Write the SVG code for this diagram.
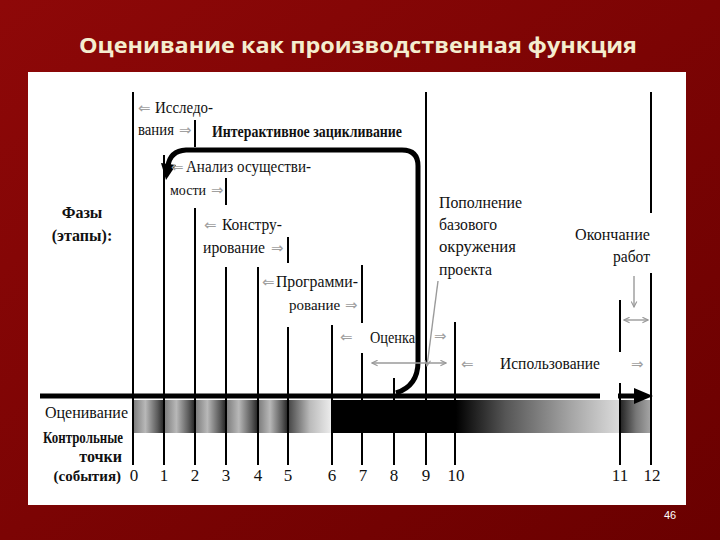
<svg xmlns="http://www.w3.org/2000/svg" width="720" height="540" viewBox="0 0 720 540">
<defs>
<linearGradient id="bg" x1="0" y1="0" x2="1" y2="1">
<stop offset="0" stop-color="#8e0808"/><stop offset="1" stop-color="#6a0000"/>
</linearGradient>
<linearGradient id="seg" x1="0" y1="0" x2="1" y2="0">
<stop offset="0" stop-color="#7a7a7a"/><stop offset="0.4" stop-color="#b8b8b8"/><stop offset="0.8" stop-color="#5a5a5a"/><stop offset="1" stop-color="#222"/>
</linearGradient>
<linearGradient id="seg5" x1="0" y1="0" x2="1" y2="0">
<stop offset="0" stop-color="#444"/><stop offset="0.5" stop-color="#bbb"/><stop offset="1" stop-color="#eee"/>
</linearGradient>
<linearGradient id="seg10" x1="0" y1="0" x2="1" y2="0">
<stop offset="0" stop-color="#000"/><stop offset="0.3" stop-color="#555"/><stop offset="0.7" stop-color="#a5a5a5"/><stop offset="1" stop-color="#dcdcdc"/>
</linearGradient>
<linearGradient id="seg11" x1="0" y1="0" x2="1" y2="0">
<stop offset="0" stop-color="#222"/><stop offset="0.5" stop-color="#777"/><stop offset="1" stop-color="#aaa"/>
</linearGradient>
<marker id="ga" viewBox="0 0 10 10" refX="9" refY="5" markerWidth="7" markerHeight="7" orient="auto-start-reverse" markerUnits="userSpaceOnUse">
<path d="M1 1 L9 5 L1 9" fill="none" stroke="#999" stroke-width="1.6"/>
</marker>
</defs>
<style>
.t{font-family:"Liberation Serif",serif;font-size:17px;fill:#111}
.b{font-family:"Liberation Serif",serif;font-size:16px;font-weight:bold;fill:#111}
.g{font-family:"DejaVu Sans",sans-serif;font-size:15px;fill:#a0a0a0}
.ln{stroke:#000;stroke-width:2;fill:none}
.ga{stroke:#9a9a9a;stroke-width:1.4;fill:none}
.num{font-family:"Liberation Serif",serif;font-size:17px;fill:#111;text-anchor:middle}
</style>
<rect width="720" height="540" fill="url(#bg)"/>
<text x="358" y="53" text-anchor="middle" font-family="'Open Sans',sans-serif" font-weight="bold" font-size="22" fill="#f4edcf" textLength="558" lengthAdjust="spacingAndGlyphs">Оценивание как производственная функция</text>
<rect x="28" y="72" width="658" height="433" fill="#fff"/>
<text x="670" y="519" text-anchor="middle" font-family="'Liberation Sans',sans-serif" font-size="11" fill="#fff">46</text>

<g id="bar">
<rect x="133" y="400" width="31" height="33" fill="url(#seg)"/>
<rect x="164" y="400" width="31" height="33" fill="url(#seg)"/>
<rect x="195" y="400" width="31" height="33" fill="url(#seg)"/>
<rect x="226" y="400" width="32" height="33" fill="url(#seg)"/>
<rect x="258" y="400" width="30" height="33" fill="url(#seg)"/>
<rect x="288" y="400" width="44" height="33" fill="url(#seg5)"/>
<rect x="332" y="400" width="124" height="33" fill="#000"/>
<rect x="456" y="400" width="164" height="33" fill="url(#seg10)"/>
<rect x="620" y="400" width="32" height="33" fill="url(#seg11)"/>
<line x1="40" y1="396" x2="600" y2="396" stroke="#000" stroke-width="5"/>
<line x1="618" y1="396" x2="638" y2="396" stroke="#000" stroke-width="5"/>
<polygon points="634,388 653,396 634,404" fill="#000"/>
</g>

<g id="connectors">
<path class="ln" d="M133 92 V465"/>
<path class="ln" d="M164 155 V465"/>
<path class="ln" d="M195 120 V147 M195 208 V465"/>
<path class="ln" d="M226 178 V205 M226 267 V465"/>
<path class="ln" d="M258 267 V465"/>
<path class="ln" d="M288 237 V263 M288 327 V465"/>
<path class="ln" d="M332 325 V465"/>
<path class="ln" d="M362 265 V323 M362 353 V465"/>
<path class="ln" d="M394 378 V465"/>
<path class="ln" d="M426 92 V465"/>
<path class="ln" d="M455 322 V465"/>
<path class="ln" d="M620 300 V352 M620 383 V465"/>
<path class="ln" d="M651 92 V213 M651 273 V465"/>
<path d="M396 393 Q418 386 418 362 L418 166 Q418 150 402 150 L186 150 Q170 151 168 166" fill="none" stroke="#000" stroke-width="5"/>
<polygon points="161,163 176,165 166,180" fill="#000"/>
<path class="ga" d="M438 281 L427 366" marker-end="url(#ga)"/>
<path class="ga" d="M372 363 H446" marker-start="url(#ga)" marker-end="url(#ga)"/>
<path class="ga" d="M624 320 H648" marker-start="url(#ga)" marker-end="url(#ga)"/>
<path class="ga" d="M634 276 V307" marker-end="url(#ga)"/>
</g>

<g id="labels">
<text class="b" x="82" y="218" text-anchor="middle">Фазы</text>
<text class="b" x="82" y="241" text-anchor="middle">(этапы):</text>
<text class="t" x="45" y="418" textLength="83" lengthAdjust="spacingAndGlyphs">Оценивание</text>
<text class="b" x="43" y="443" textLength="80" lengthAdjust="spacingAndGlyphs">Контрольные</text>
<text class="b" x="122" y="462" text-anchor="end">точки</text>
<text class="b" x="121" y="481" text-anchor="end" style="font-size:15px">(события)</text>
</g>

<g id="numbers">
<text class="num" x="134" y="481">0</text>
<text class="num" x="164" y="481">1</text>
<text class="num" x="195" y="481">2</text>
<text class="num" x="226" y="481">3</text>
<text class="num" x="258" y="481">4</text>
<text class="num" x="288" y="481">5</text>
<text class="num" x="332" y="481">6</text>
<text class="num" x="363" y="481">7</text>
<text class="num" x="394" y="481">8</text>
<text class="num" x="426" y="481">9</text>
<text class="num" x="456" y="481">10</text>
<text class="num" x="620" y="481">11</text>
<text class="num" x="652" y="481">12</text>
</g>

<g id="phase-research">
<text class="g" x="138" y="113">⇐</text>
<text class="t" x="155" y="113" textLength="58" lengthAdjust="spacingAndGlyphs">Исследо-</text>
<text class="t" x="138" y="135" textLength="36" lengthAdjust="spacingAndGlyphs">вания</text>
<text class="g" x="179" y="135">⇒</text>
</g>
<g id="loop-label">
<text class="b" x="212" y="137" textLength="190" lengthAdjust="spacingAndGlyphs">Интерактивное зацикливание</text>
</g>
<g id="phase-analysis">
<text class="g" x="171" y="172">⇐</text>
<text class="t" x="186" y="172" textLength="125" lengthAdjust="spacingAndGlyphs">Анализ осуществи-</text>
<text class="t" x="170" y="195" style="font-size:14px">мости</text>
<text class="g" x="211" y="195">⇒</text>
</g>
<g id="phase-design">
<text class="g" x="204" y="230">⇐</text>
<text class="t" x="222" y="230" textLength="60" lengthAdjust="spacingAndGlyphs">Констру-</text>
<text class="t" x="203" y="253" textLength="62" lengthAdjust="spacingAndGlyphs">ирование</text>
<text class="g" x="271" y="253">⇒</text>
</g>
<g id="phase-programming">
<text class="g" x="262" y="287">⇐</text>
<text class="t" x="289" y="310" style="font-size:15px">рование</text>
<text class="t" x="276" y="287" textLength="82" lengthAdjust="spacingAndGlyphs">Программи-</text>
<text class="g" x="345" y="310">⇒</text>
</g>
<g id="phase-evaluation">
<text class="g" x="340" y="342">⇐</text>
<text class="t" x="370" y="343" textLength="45" lengthAdjust="spacingAndGlyphs">Оценка</text>
<text class="g" x="434" y="341">⇒</text>
</g>
<g id="phase-use">
<text class="g" x="461" y="369">⇐</text>
<text class="t" x="500" y="369" textLength="100" lengthAdjust="spacingAndGlyphs">Использование</text>
<text class="g" x="631" y="369">⇒</text>
</g>
<g id="note-base">
<text class="t" x="439" y="208" textLength="83" lengthAdjust="spacingAndGlyphs">Пополнение</text>
<text class="t" x="439" y="230" textLength="58" lengthAdjust="spacingAndGlyphs">базового</text>
<text class="t" x="439" y="252" textLength="77" lengthAdjust="spacingAndGlyphs">окружения</text>
<text class="t" x="439" y="275" textLength="53" lengthAdjust="spacingAndGlyphs">проекта</text>
</g>
<g id="note-end">
<text class="t" x="575" y="240" textLength="75" lengthAdjust="spacingAndGlyphs">Окончание</text>
<text class="t" x="613" y="262" textLength="37" lengthAdjust="spacingAndGlyphs">работ</text>
</g>
</svg>
